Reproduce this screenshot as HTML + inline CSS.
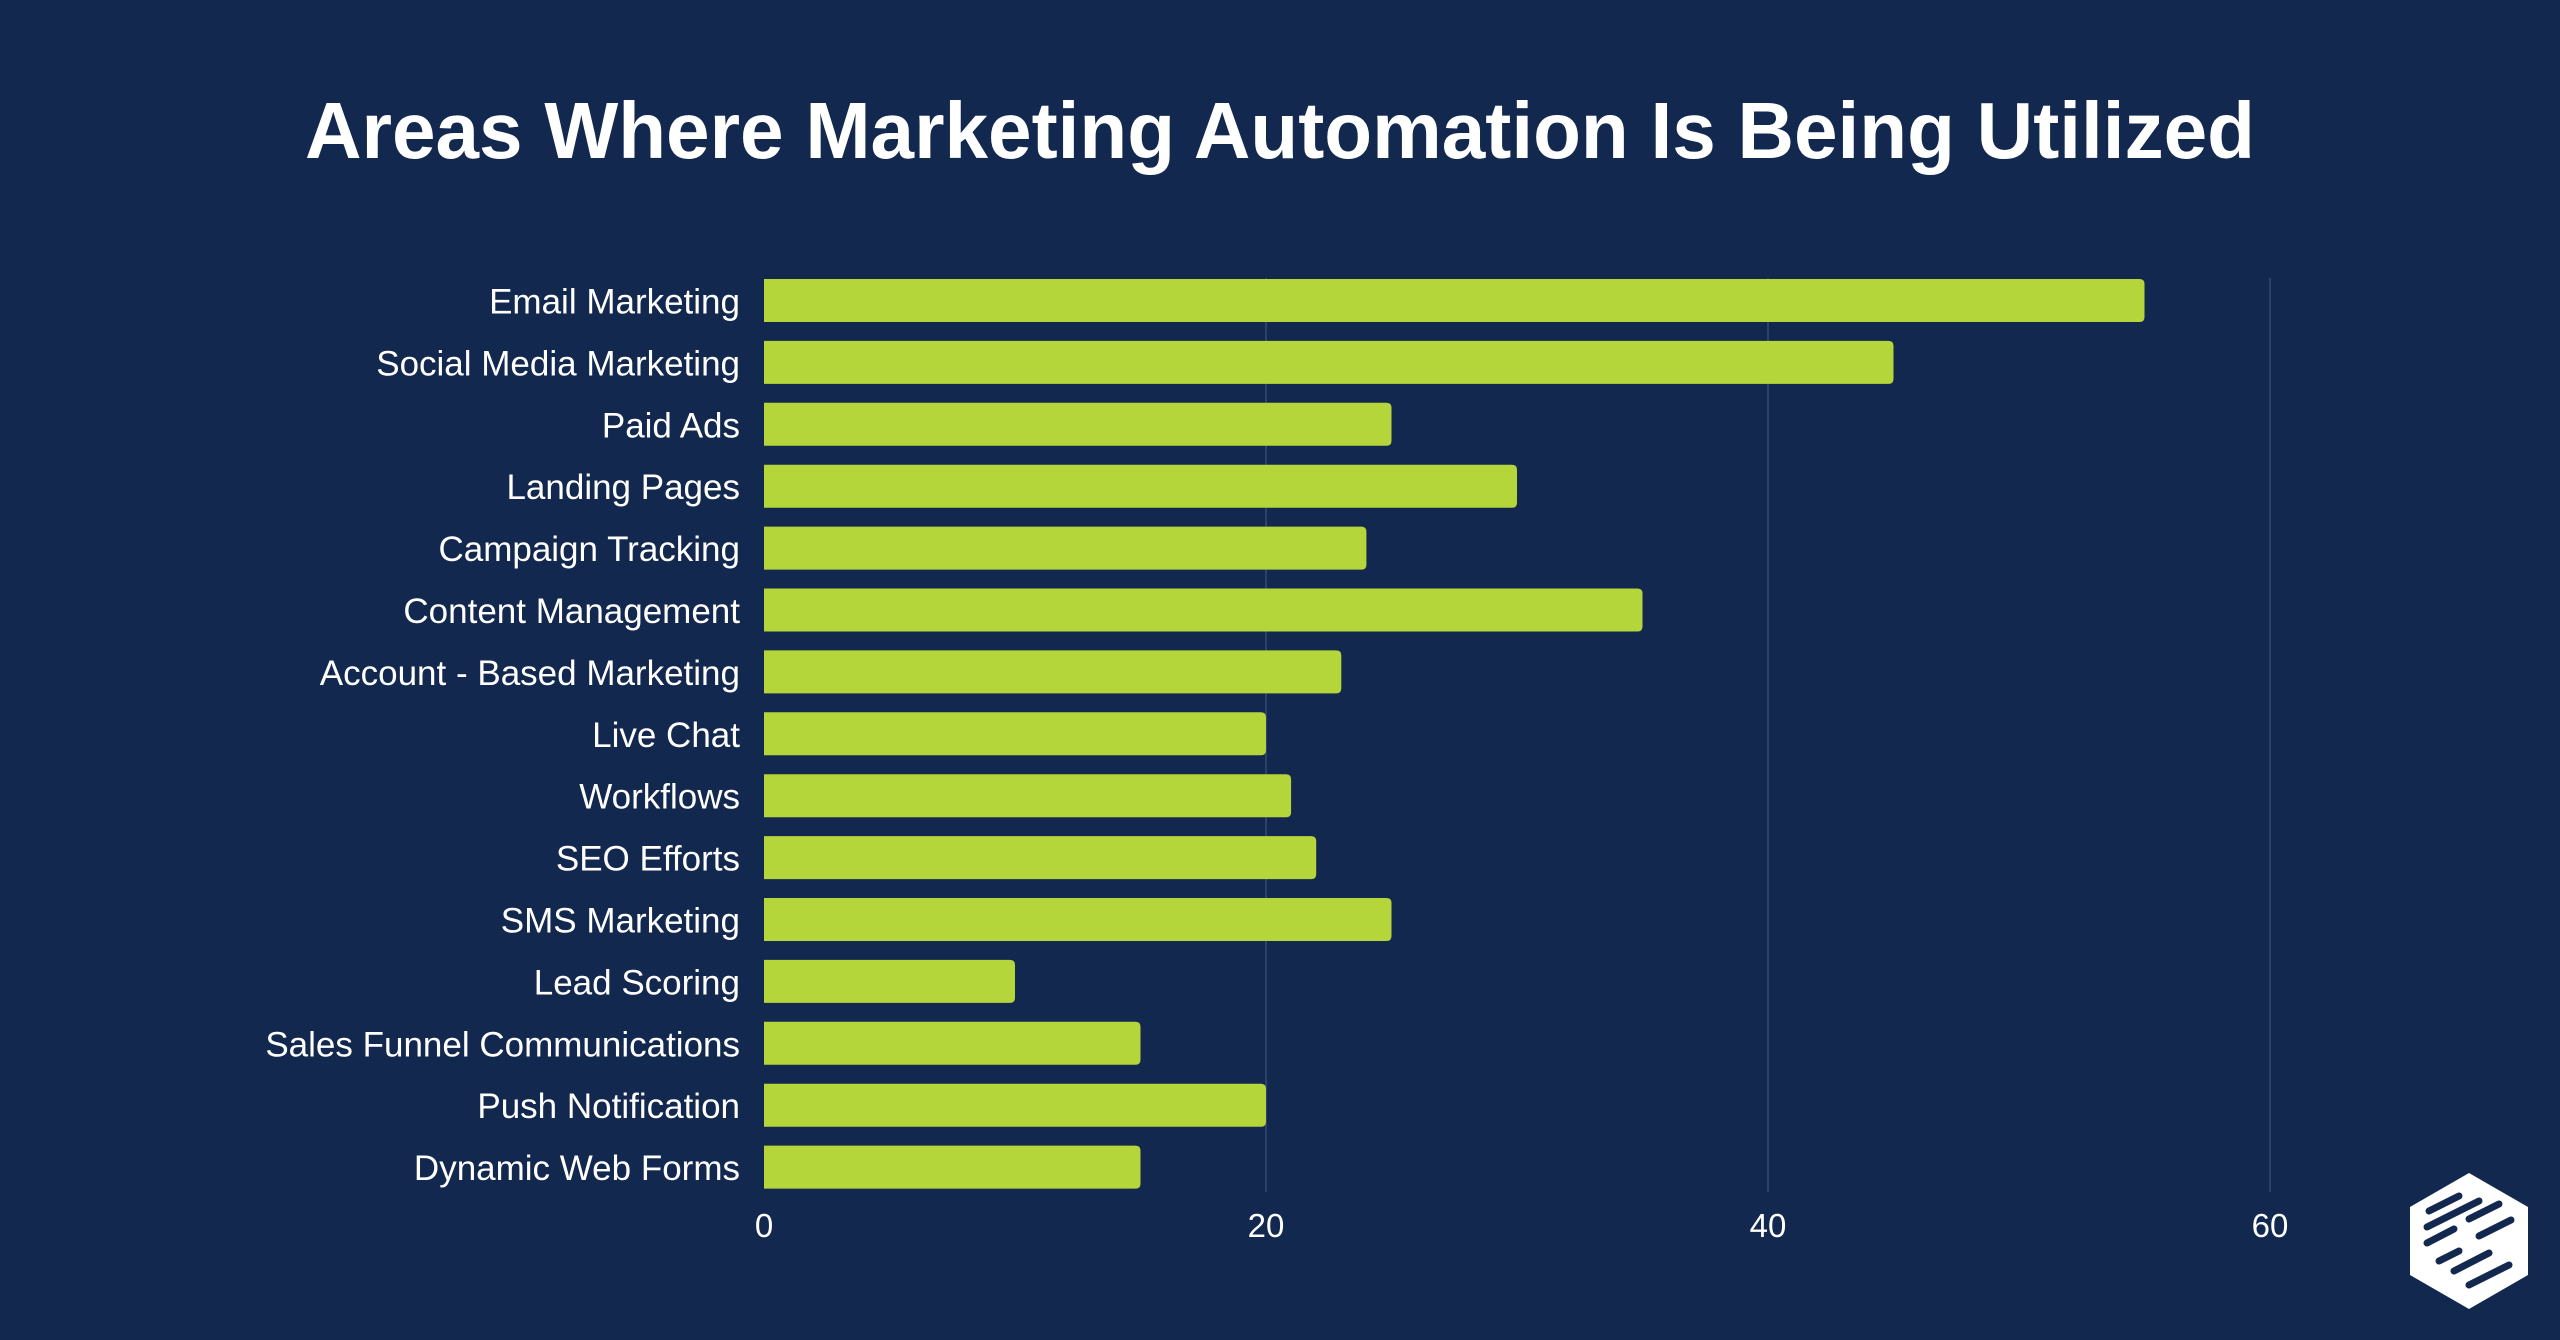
<!DOCTYPE html>
<html><head><meta charset="utf-8"><style>
html,body{margin:0;padding:0;background:#13284f;}
svg{display:block;}
text{font-family:"Liberation Sans",sans-serif;}
</style></head><body>
<svg width="2560" height="1340" viewBox="0 0 2560 1340" xmlns="http://www.w3.org/2000/svg">
<rect width="2560" height="1340" fill="#13284f"/>
<text x="1280" y="158" text-anchor="middle" font-size="80" font-weight="bold" fill="#ffffff" textLength="1950" lengthAdjust="spacingAndGlyphs">Areas Where Marketing Automation Is Being Utilized</text>
<g stroke="#2e4268" stroke-width="2">
<line x1="1266" y1="278" x2="1266" y2="1192"/>
<line x1="1768" y1="278" x2="1768" y2="1192"/>
<line x1="2270" y1="278" x2="2270" y2="1192"/>
</g>
<g id="bars" fill="#b5d63a"></g>
<g id="labels" fill="#ffffff" font-size="35" text-anchor="end"></g>
<g fill="#ffffff" font-size="33" text-anchor="middle">
<text x="764" y="1237">0</text>
<text x="1266" y="1237">20</text>
<text x="1768" y="1237">40</text>
<text x="2270" y="1237">60</text>
</g>
<g transform="translate(2469,1241)">
<polygon points="0,-68 59,-34 59,34 0,68 -59,34 -59,-34" fill="#ffffff"/>
<g stroke="#13284f" stroke-width="7" stroke-linecap="round">
<line x1="-40" y1="-30" x2="-10" y2="-45"/>
<line x1="-42" y1="-14" x2="10" y2="-40"/>
<line x1="-42" y1="2" x2="-15" y2="-12"/>
<line x1="0" y1="-22" x2="30" y2="-37"/>
<line x1="-30" y1="20" x2="-10" y2="10"/>
<line x1="10" y1="-5" x2="42" y2="-21"/>
<line x1="-15" y1="30" x2="20" y2="12"/>
<line x1="0" y1="44" x2="40" y2="24"/>
</g>
</g>
<script>
var d=[["Email Marketing",55],["Social Media Marketing",45],["Paid Ads",25],["Landing Pages",30],["Campaign Tracking",24],["Content Management",35],["Account - Based Marketing",23],["Live Chat",20],["Workflows",21],["SEO Efforts",22],["SMS Marketing ",25],["Lead Scoring",10],["Sales Funnel Communications",15],["Push Notification",20],["Dynamic Web Forms",15]];
var ns="http://www.w3.org/2000/svg",b=document.getElementById("bars"),l=document.getElementById("labels");
d.forEach(function(r,i){var cy=300.5+i*61.9;var w=r[1]*25.1;
var p=document.createElementNS(ns,"path");var x=764,y=cy-21.5,h=43,rr=5;
p.setAttribute("d","M"+x+","+y+"H"+(x+w-rr)+"Q"+(x+w)+","+y+" "+(x+w)+","+(y+rr)+"V"+(y+h-rr)+"Q"+(x+w)+","+(y+h)+" "+(x+w-rr)+","+(y+h)+"H"+x+"Z");
b.appendChild(p);
var t=document.createElementNS(ns,"text");t.setAttribute("x",740);t.setAttribute("y",cy+13);t.setAttribute("xml:space","preserve");t.textContent=r[0];l.appendChild(t);});
</script>
</svg>
</body></html>
